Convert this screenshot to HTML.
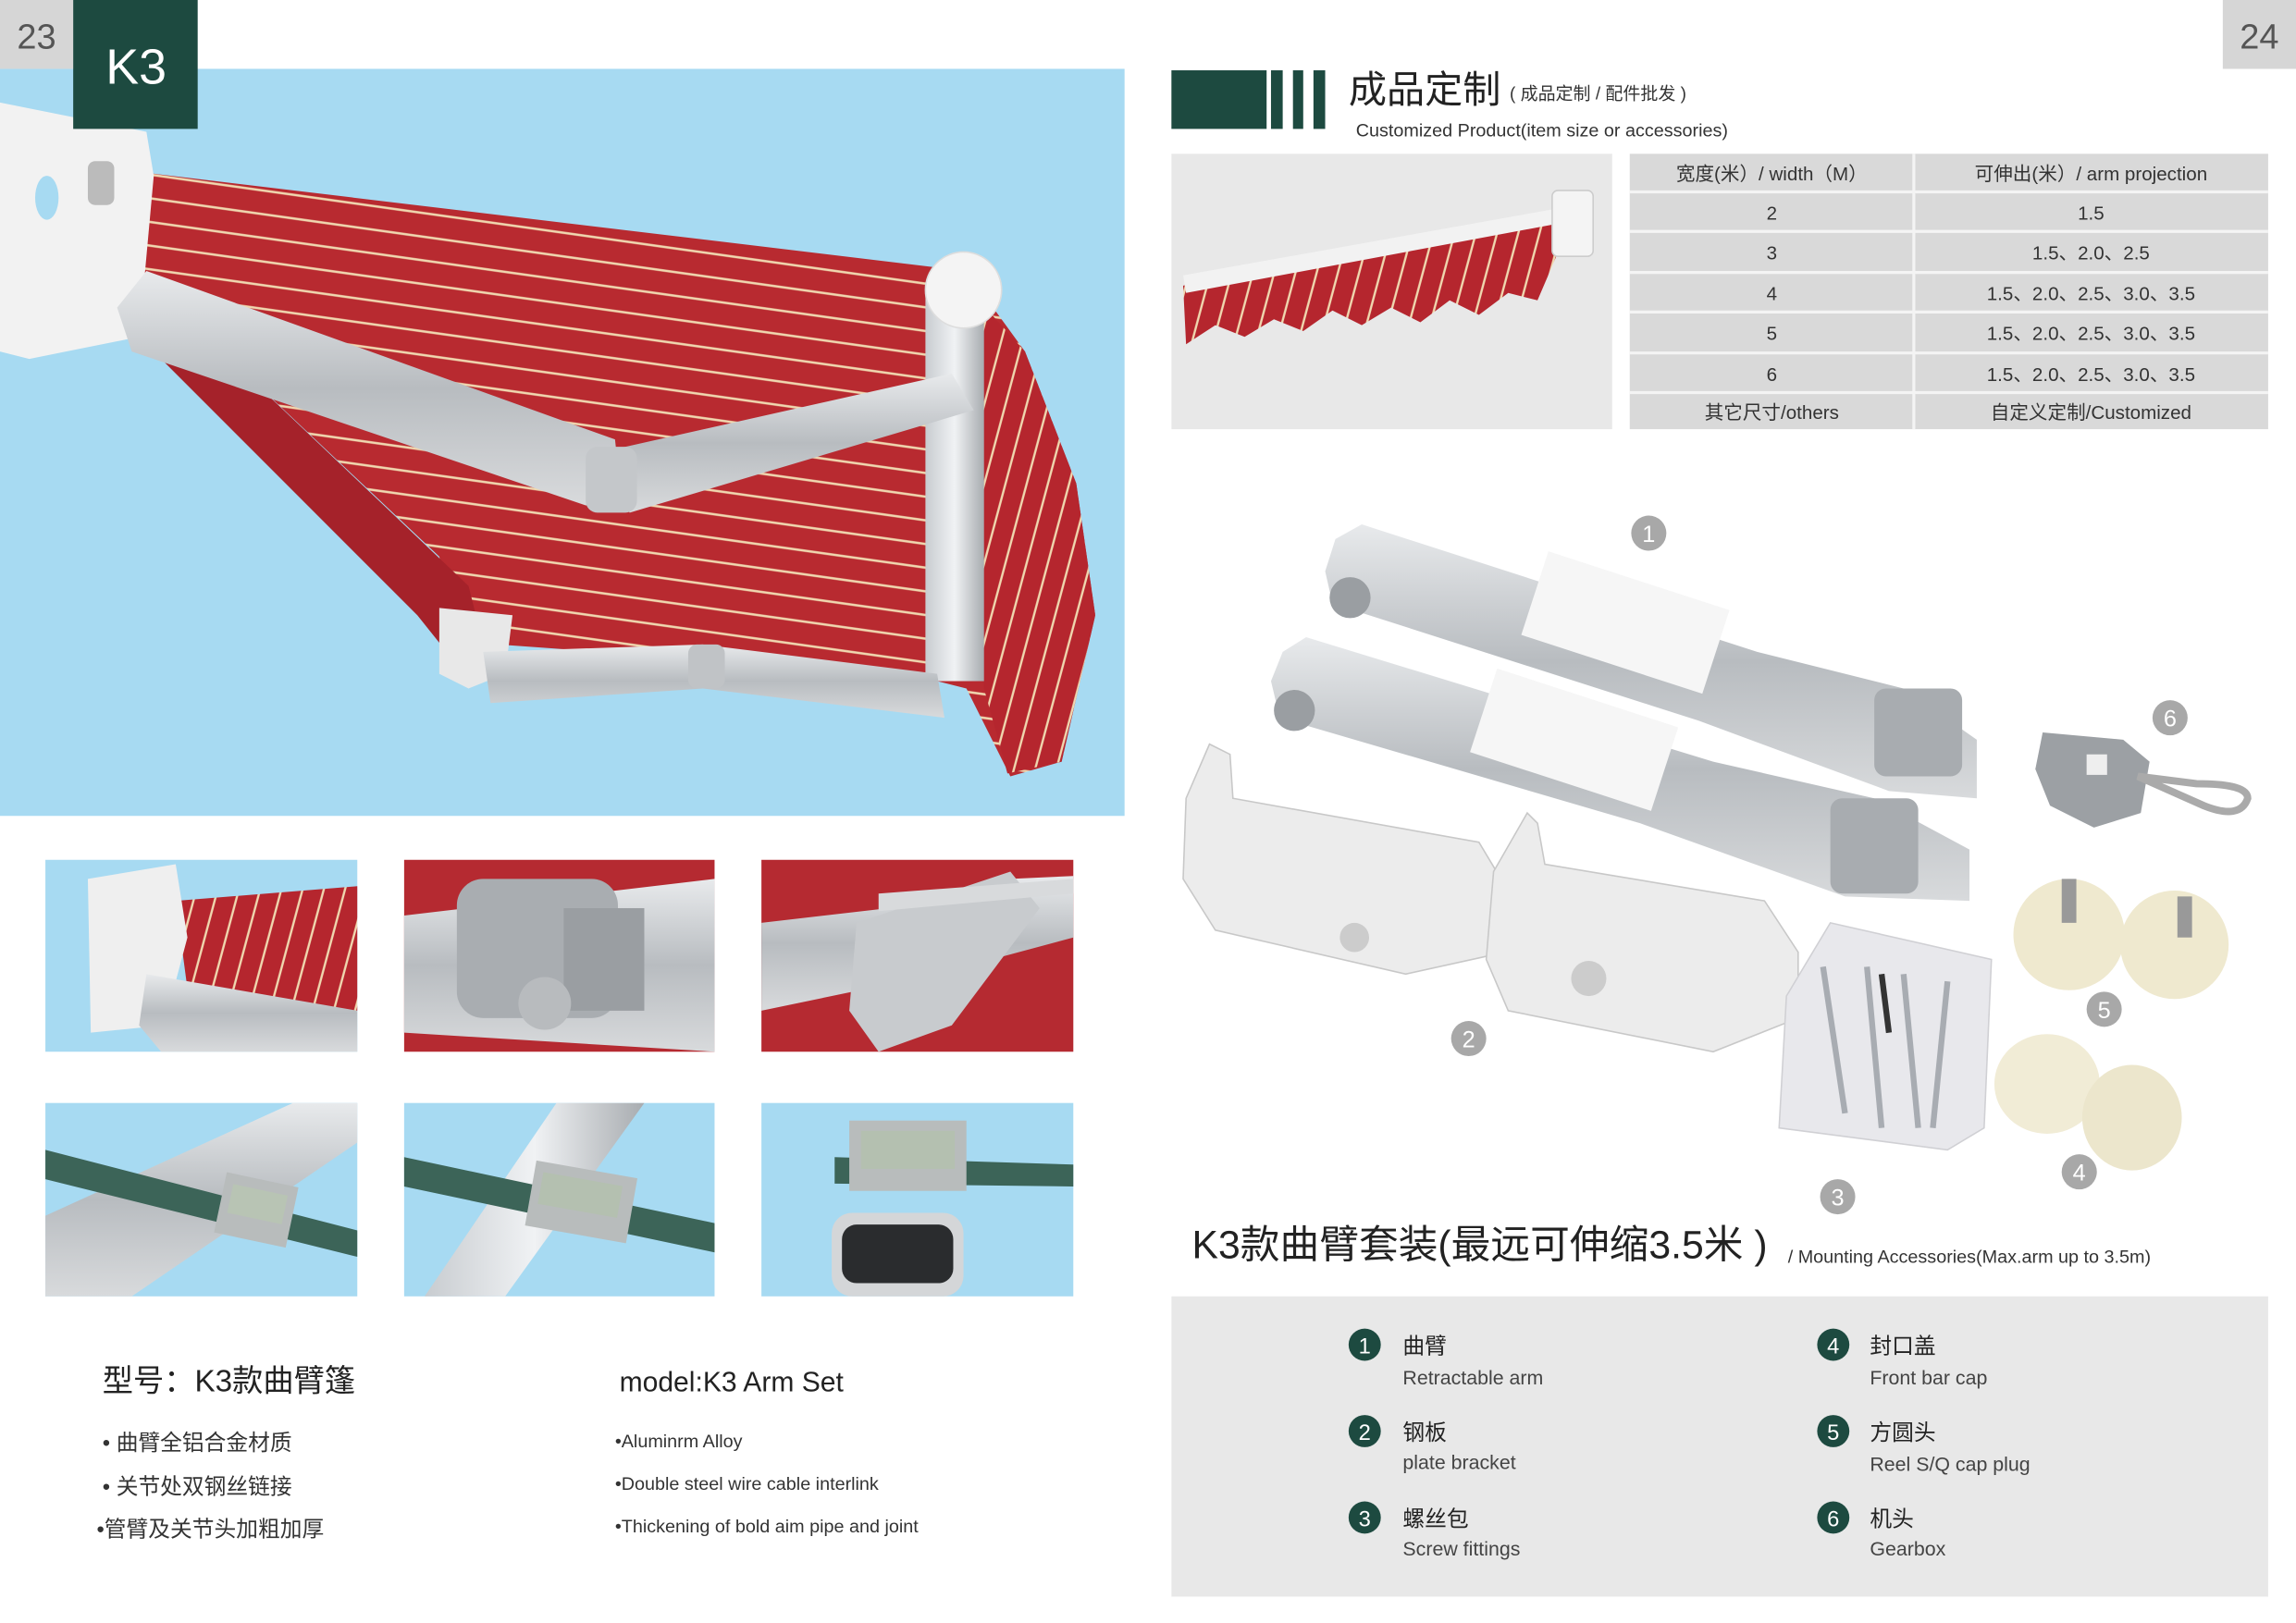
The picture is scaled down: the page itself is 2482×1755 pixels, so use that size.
<!DOCTYPE html>
<html><head><meta charset="utf-8">
<style>
html,body{margin:0;padding:0;background:#fff;}
svg{display:block;}
text{font-family:"Liberation Sans","Noto Sans CJK SC",sans-serif;}
</style></head>
<body>
<svg width="2482" height="1755" viewBox="0 0 1568 1108" preserveAspectRatio="none" xmlns="http://www.w3.org/2000/svg">
<defs>
<pattern id="stripes" width="40" height="16" patternUnits="userSpaceOnUse" patternTransform="rotate(8)">
<rect width="40" height="16" fill="#b82a30"/><rect y="7" width="40" height="1.6" fill="#f0d8b0"/>
</pattern>
<pattern id="vstripes" width="14" height="40" patternUnits="userSpaceOnUse" patternTransform="rotate(15)">
<rect width="14" height="40" fill="#b5262e"/><rect x="6" width="1.5" height="40" fill="#f0d8b0"/>
</pattern>
<linearGradient id="silver" x1="0" y1="0" x2="0" y2="1">
<stop offset="0" stop-color="#e8eaec"/><stop offset="0.5" stop-color="#b8bcc0"/><stop offset="1" stop-color="#d8dadc"/>
</linearGradient>
<linearGradient id="silverH" x1="0" y1="0" x2="1" y2="0">
<stop offset="0" stop-color="#c8ccd0"/><stop offset="0.5" stop-color="#f0f2f4"/><stop offset="1" stop-color="#a8acb0"/>
</linearGradient>
</defs>

<!-- LEFT PAGE -->
<rect x="0" y="47" width="768" height="510" fill="#a7daf2"/>
<!-- awning fabric -->
<polygon points="100,118 660,185 700,240 735,330 748,420 725,520 690,530 660,470 620,460 340,440 310,420 300,380 120,210 95,200" fill="url(#stripes)"/>
<polygon points="655,190 700,240 735,330 748,420 725,520 688,528 672,470 665,300" fill="url(#vstripes)"/>
<!-- roller tube -->
<polygon points="95,190 120,210 320,400 330,440 305,445 285,420 90,225" fill="#a5222a"/>
<!-- wall bracket -->
<polygon points="0,70 100,90 105,120 95,230 20,245 0,240" fill="#f2f2f2"/>
<ellipse cx="32" cy="135" rx="8" ry="15" fill="#a7daf2"/>
<rect x="60" y="110" width="18" height="30" rx="5" fill="#bbb"/>
<!-- front bar -->
<rect x="632" y="195" width="40" height="270" fill="url(#silverH)"/>
<circle cx="658" cy="198" r="26" fill="#f4f4f4" stroke="#ddd"/>
<!-- upper arm -->
<polygon points="80,210 100,185 420,300 425,345 400,345 90,240" fill="url(#silver)"/>
<polygon points="405,310 650,255 665,280 430,350" fill="url(#silver)"/>
<rect x="400" y="305" width="35" height="45" rx="8" fill="#c4c7ca"/>
<!-- lower arm -->
<polygon points="300,415 350,420 345,460 320,470 300,460" fill="#e8e8e8"/>
<polygon points="330,445 480,440 640,460 645,490 480,470 335,480" fill="url(#silver)"/>
<rect x="470" y="440" width="25" height="30" rx="6" fill="#c0c3c6"/>

<!-- page number 23 + K3 -->
<rect x="0" y="0" width="50" height="47" fill="#d6d6d6"/>
<text x="25" y="33" font-size="24" fill="#555" text-anchor="middle">23</text>
<rect x="50" y="0" width="85" height="88" fill="#1d4a40"/>
<text x="93" y="57" font-size="34" fill="#fff" text-anchor="middle">K3</text>

<!-- thumbnails row 1 -->
<rect x="31" y="587" width="213" height="131" fill="#a7daf2"/>
<polygon points="120,615 244,605 244,690 130,690" fill="url(#vstripes)"/>
<polygon points="60,600 120,590 128,640 112,700 62,705" fill="#efefef"/>
<polygon points="100,665 244,690 244,718 110,718 95,700" fill="url(#silver)"/>

<rect x="276" y="587" width="212" height="131" fill="#b52a31"/>
<polygon points="276,625 488,600 488,718 276,705" fill="url(#silver)"/>
<rect x="312" y="600" width="110" height="95" rx="18" fill="#a9adb1"/>
<rect x="385" y="620" width="55" height="70" fill="#9a9ea2"/>
<circle cx="372" cy="685" r="18" fill="#b8bbbe"/>

<rect x="520" y="587" width="213" height="131" fill="#b52a31"/>
<polygon points="520,630 650,615 690,600 733,598 733,640 640,665 520,690" fill="url(#silver)"/>
<polygon points="585,630 690,595 710,620 650,700 600,718 580,690" fill="#c8cbce"/>
<polygon points="600,610 733,600 733,610 600,622" fill="#d8dadc"/>

<!-- thumbnails row 2 -->
<rect x="31" y="753" width="213" height="132" fill="#a7daf2"/>
<polygon points="31,830 200,753 244,753 244,780 90,885 31,885" fill="url(#silver)"/>
<polygon points="31,785 244,840 244,858 31,805" fill="#3c6458"/>
<rect x="150" y="805" width="50" height="42" fill="#b8bcbc" transform="rotate(12 175 826)"/>
<rect x="156" y="812" width="38" height="20" fill="#b8c4b4" transform="rotate(12 175 826)"/>

<rect x="276" y="753" width="212" height="132" fill="#a7daf2"/>
<polygon points="290,885 380,753 440,753 345,885" fill="url(#silverH)"/>
<polygon points="276,790 488,835 488,855 276,810" fill="#3c6458"/>
<rect x="362" y="798" width="70" height="45" fill="#b8bcbc" transform="rotate(10 397 820)"/>
<rect x="368" y="805" width="55" height="22" fill="#b4c0b0" transform="rotate(10 397 820)"/>

<rect x="520" y="753" width="213" height="132" fill="#a7daf2"/>
<polygon points="570,790 733,795 733,810 570,808" fill="#3c6458"/>
<rect x="580" y="765" width="80" height="48" fill="#b8bcbc"/>
<rect x="588" y="772" width="64" height="26" fill="#b4c0b0"/>
<rect x="568" y="828" width="90" height="57" rx="14" fill="#d4d6d8"/>
<rect x="575" y="836" width="76" height="40" rx="10" fill="#2a2c2e"/>

<!-- left texts -->
<text x="70" y="950" font-size="21" fill="#222">型号：K3款曲臂篷</text>
<text x="423" y="950" font-size="19" fill="#222">model:K3 Arm Set</text>
<text x="70" y="990" font-size="15" fill="#333">• 曲臂全铝合金材质</text>
<text x="70" y="1020" font-size="15" fill="#333">• 关节处双钢丝链接</text>
<text x="66" y="1049" font-size="15" fill="#333">•管臂及关节头加粗加厚</text>
<text x="420" y="988" font-size="12.5" fill="#333">•Aluminrm Alloy</text>
<text x="420" y="1017" font-size="12.5" fill="#333">•Double steel wire cable interlink</text>
<text x="420" y="1046" font-size="12.5" fill="#333">•Thickening of bold aim pipe and joint</text>

<!-- RIGHT PAGE -->
<rect x="1518" y="0" width="50" height="47" fill="#d6d6d6"/>
<text x="1543" y="33" font-size="24" fill="#555" text-anchor="middle">24</text>

<rect x="800" y="48" width="65" height="40" fill="#1d4a40"/>
<rect x="868" y="48" width="8" height="40" fill="#1d4a40"/>
<rect x="883" y="48" width="7" height="40" fill="#1d4a40"/>
<rect x="897" y="48" width="8" height="40" fill="#1d4a40"/>
<text x="921" y="70" font-size="26" fill="#222">成品定制</text>
<text x="1031" y="68" font-size="12" fill="#333">( 成品定制 / 配件批发 )</text>
<text x="926" y="93" font-size="12.5" fill="#333">Customized Product(item size or accessories)</text>

<!-- product image -->
<rect x="800" y="105" width="301" height="188" fill="#e8e8e8"/>
<polygon points="808,195 1060,145 1065,170 1050,205 1030,200 1010,215 990,205 970,220 950,210 930,222 910,212 890,226 870,218 850,230 830,222 810,235" fill="url(#vstripes)"/>
<polygon points="808,188 1060,143 1062,153 810,200" fill="#f2f2f2"/>
<rect x="1060" y="130" width="28" height="45" rx="4" fill="#f4f4f4" stroke="#ccc"/>

<!-- table -->
<rect x="1113" y="105" width="436" height="188" fill="#d9d9d9"/>
<g stroke="#f4f4f4" stroke-width="2">
<line x1="1307" y1="105" x2="1307" y2="293"/>
<line x1="1113" y1="131" x2="1549" y2="131"/>
<line x1="1113" y1="158" x2="1549" y2="158"/>
<line x1="1113" y1="186" x2="1549" y2="186"/>
<line x1="1113" y1="213" x2="1549" y2="213"/>
<line x1="1113" y1="241" x2="1549" y2="241"/>
<line x1="1113" y1="268" x2="1549" y2="268"/>
</g>
<g font-size="13" fill="#333" text-anchor="middle">
<text x="1210" y="123">宽度(米）/ width（M）</text>
<text x="1428" y="123">可伸出(米）/ arm projection</text>
<text x="1210" y="150">2</text><text x="1428" y="150">1.5</text>
<text x="1210" y="177">3</text><text x="1428" y="177">1.5、2.0、2.5</text>
<text x="1210" y="205">4</text><text x="1428" y="205">1.5、2.0、2.5、3.0、3.5</text>
<text x="1210" y="232">5</text><text x="1428" y="232">1.5、2.0、2.5、3.0、3.5</text>
<text x="1210" y="260">6</text><text x="1428" y="260">1.5、2.0、2.5、3.0、3.5</text>
<text x="1210" y="286">其它尺寸/others</text><text x="1428" y="286">自定义定制/Customized</text>
</g>

<!-- accessories photo -->
<!-- arm 1 -->
<polygon points="912,368 930,358 1200,445 1300,470 1350,505 1350,545 1290,540 1160,492 910,412 905,390" fill="url(#silver)"/>
<rect x="1045" y="395" width="130" height="60" fill="#f6f6f6" transform="rotate(18 1110 425)"/>
<circle cx="922" cy="408" r="14" fill="#9a9ea2"/>
<rect x="1280" y="470" width="60" height="60" rx="8" fill="#a8acb0"/>
<!-- arm 2 -->
<polygon points="876,445 892,435 1170,520 1280,545 1345,580 1345,615 1260,612 1120,562 874,490 868,465" fill="url(#silver)"/>
<rect x="1010" y="475" width="130" height="60" fill="#f6f6f6" transform="rotate(18 1075 505)"/>
<circle cx="884" cy="485" r="14" fill="#9a9ea2"/>
<rect x="1250" y="545" width="60" height="65" rx="8" fill="#a8acb0"/>
<!-- brackets -->
<polygon points="826,508 840,515 842,545 1010,575 1028,605 1028,650 960,665 830,635 808,600 810,545" fill="#ececec" stroke="#c8c8c8"/>
<polygon points="1043,555 1050,562 1055,590 1205,615 1228,650 1228,695 1170,718 1030,690 1015,655 1020,595" fill="#ececec" stroke="#c8c8c8"/>
<circle cx="925" cy="640" r="10" fill="#ccc"/><circle cx="1085" cy="668" r="12" fill="#ccc"/>
<!-- bag -->
<polygon points="1250,630 1360,655 1355,770 1330,785 1215,770 1220,680" fill="#e8e8ec" stroke="#d0d0d4"/>
<g stroke="#a8acb2" stroke-width="4"><line x1="1245" y1="660" x2="1260" y2="760"/><line x1="1275" y1="660" x2="1285" y2="770"/><line x1="1300" y1="665" x2="1310" y2="770"/><line x1="1330" y1="670" x2="1320" y2="770"/></g>
<line x1="1285" y1="665" x2="1290" y2="705" stroke="#333" stroke-width="4"/>
<!-- gearbox -->
<polygon points="1395,500 1450,505 1468,520 1462,555 1430,565 1400,550 1390,525" fill="#9ca0a4"/>
<rect x="1425" y="515" width="14" height="14" fill="#eee"/>
<path d="M1460,530 L1500,535 Q1535,535 1535,545 Q1530,560 1505,550 Z" fill="none" stroke="#aaa" stroke-width="5"/>
<!-- caps 5 -->
<circle cx="1413" cy="638" r="38" fill="#efe9cf"/><rect x="1408" y="600" width="10" height="30" fill="#999"/>
<circle cx="1485" cy="645" r="37" fill="#efe9cf"/><rect x="1487" y="612" width="10" height="28" fill="#999"/>
<!-- caps 4 -->
<ellipse cx="1398" cy="740" rx="36" ry="34" fill="#f1ecd6"/>
<ellipse cx="1456" cy="763" rx="34" ry="36" fill="#ece6cc"/>
<!-- gray number circles -->
<g fill="#a8a8a8"><circle cx="1126" cy="364" r="12"/><circle cx="1003" cy="709" r="12"/><circle cx="1255" cy="817" r="12"/><circle cx="1420" cy="800" r="12"/><circle cx="1437" cy="689" r="12"/><circle cx="1482" cy="490" r="12"/></g>
<g fill="#fff" font-size="16" text-anchor="middle">
<text x="1126" y="370">1</text><text x="1003" y="715">2</text><text x="1255" y="823">3</text><text x="1420" y="806">4</text><text x="1437" y="695">5</text><text x="1482" y="496">6</text>
</g>

<text x="814" y="859" font-size="27" fill="#222">K3款曲臂套装(最远可伸缩3.5米 )</text>
<text x="1221" y="862" font-size="12.5" fill="#333">/ Mounting Accessories(Max.arm up to 3.5m)</text>

<!-- legend box -->
<rect x="800" y="885" width="749" height="205" fill="#e8e8e8"/>
<g fill="#1d4a40"><circle cx="932" cy="918" r="11"/><circle cx="932" cy="977" r="11"/><circle cx="932" cy="1036" r="11"/><circle cx="1252" cy="918" r="11"/><circle cx="1252" cy="977" r="11"/><circle cx="1252" cy="1036" r="11"/></g>
<g fill="#fff" font-size="15" text-anchor="middle">
<text x="932" y="924">1</text><text x="932" y="983">2</text><text x="932" y="1042">3</text>
<text x="1252" y="924">4</text><text x="1252" y="983">5</text><text x="1252" y="1042">6</text>
</g>
<g font-size="15" fill="#222">
<text x="958" y="924">曲臂</text><text x="958" y="983">钢板</text><text x="958" y="1042">螺丝包</text>
<text x="1277" y="924">封口盖</text><text x="1277" y="983">方圆头</text><text x="1277" y="1042">机头</text>
</g>
<g font-size="13.5" fill="#444">
<text x="958" y="945">Retractable arm</text><text x="958" y="1003">plate bracket</text><text x="958" y="1062">Screw fittings</text>
<text x="1277" y="945">Front bar cap</text><text x="1277" y="1004">Reel S/Q cap plug</text><text x="1277" y="1062">Gearbox</text>
</g>
</svg>
</body></html>
